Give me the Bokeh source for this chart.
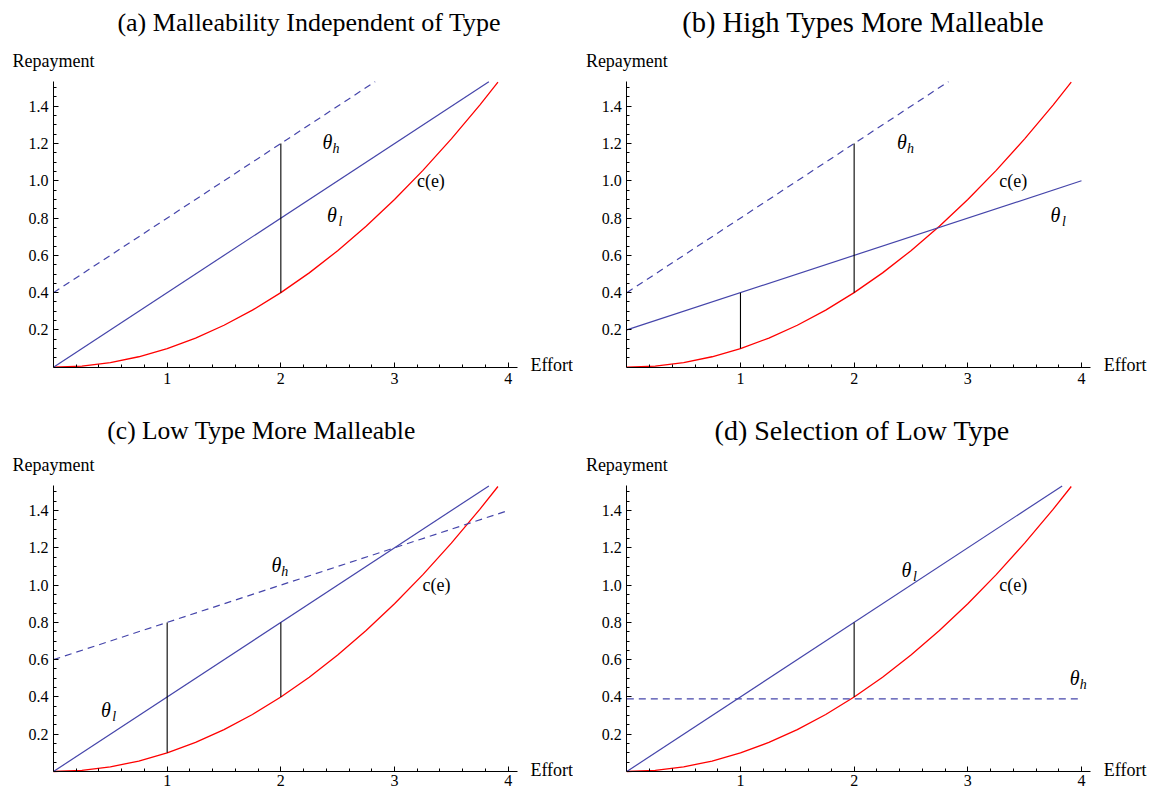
from bokeh.plotting import figure
from bokeh.models import Range1d, FixedTicker, Label, PrintfTickFormatter
from bokeh.layouts import gridplot
from bokeh.embed import file_html
from bokeh.resources import INLINE

# ---------------- data ----------------
titles = ["(a) Malleability Independent of Type",
          "(b) High Types More Malleable",
          "(c) Low Type More Malleable",
          "(d) Selection of Low Type"]

x_ticks = [1, 2, 3, 4]
x_minor = [0.2, 0.4, 0.6, 0.8, 1.2, 1.4, 1.6, 1.8, 2.2, 2.4, 2.6, 2.8,
           3.2, 3.4, 3.6, 3.8, 4.0]
y_ticks = [0.2, 0.4, 0.6, 0.8, 1.0, 1.2, 1.4]
y_minor = [0.05, 0.1, 0.15, 0.25, 0.3, 0.35, 0.45, 0.5, 0.55, 0.65, 0.7, 0.75,
           0.85, 0.9, 0.95, 1.05, 1.1, 1.15, 1.25, 1.3, 1.35, 1.45, 1.5]

# cost curve c(e)
effort_curve = [0.0, 0.25, 0.5, 0.75, 1.0, 1.25, 1.5, 1.75, 2.0, 2.25, 2.5,
                2.75, 3.0, 3.25, 3.5, 3.75, 3.91]
cost_curve = [0.0, 0.006, 0.025, 0.056, 0.1, 0.156, 0.225, 0.306, 0.4, 0.506,
              0.625, 0.756, 0.9, 1.056, 1.225, 1.406, 1.529]

# panel (a)
a_theta_l_x = [0.0, 3.83]
a_theta_l_y = [0.0, 1.532]
a_theta_h_x = [0.0, 2.83]
a_theta_h_y = [0.4, 1.532]
a_vert_x = [2.0]
a_vert_lo = [0.4]
a_vert_hi = [1.2]

# panel (b)
b_theta_l_x = [0.0, 4.0]
b_theta_l_y = [0.2, 1.0]
b_theta_h_x = [0.0, 2.83]
b_theta_h_y = [0.4, 1.532]
b_vert_x = [1.0, 2.0]
b_vert_lo = [0.1, 0.4]
b_vert_hi = [0.4, 1.2]

# panel (c)
c_theta_l_x = [0.0, 3.83]
c_theta_l_y = [0.0, 1.532]
c_theta_h_x = [0.0, 4.0]
c_theta_h_y = [0.6, 1.4]
c_vert_x = [1.0, 2.0]
c_vert_lo = [0.1, 0.4]
c_vert_hi = [0.8, 0.8]

# panel (d)
d_theta_l_x = [0.0, 3.83]
d_theta_l_y = [0.0, 1.532]
d_theta_h_x = [0.0, 4.0]
d_theta_h_y = [0.39, 0.39]
d_vert_x = [2.0]
d_vert_lo = [0.4]
d_vert_hi = [0.8]

# ---------------- styling ----------------
FONT = "Liberation Serif"
AXIS_FONT = "'Liberation Serif', serif"
BLUE = "#4545aa"
RED = "#ff0000"
SX = 113.67    # px per effort unit
SY = 186.4     # px per repayment unit


def make_panel(title, title_x, title_y, title_size, width, height, origin_x,
               origin_y, x_standoff, tl_x, tl_y, th_x, th_y, vx, vlo, vhi,
               labels):
    p = figure(output_backend="svg", toolbar_location=None,
               frame_width=width, frame_height=height,
               x_range=Range1d(-origin_x / SX, (width - origin_x) / SX),
               y_range=Range1d(-(height - origin_y) / SY, origin_y / SY),
               min_border_left=0, min_border_right=0,
               min_border_top=0, min_border_bottom=0)
    p.grid.visible = False
    p.outline_line_color = None
    p.background_fill_color = "white"
    p.border_fill_color = "white"

    p.xaxis.fixed_location = 0
    p.yaxis.fixed_location = 0
    p.axis.axis_line_color = "black"
    p.axis.axis_line_width = 1
    p.axis.major_tick_in = 5
    p.axis.major_tick_out = 0
    p.axis.minor_tick_in = 3
    p.axis.minor_tick_out = 0
    p.axis.major_tick_line_color = "black"
    p.axis.minor_tick_line_color = "black"
    p.xaxis.major_label_text_font = AXIS_FONT
    p.yaxis.major_label_text_font = AXIS_FONT
    p.axis.major_label_text_font_size = "16px"
    p.axis.major_label_text_color = "black"
    p.xaxis.ticker = FixedTicker(ticks=x_ticks, minor_ticks=x_minor)
    p.yaxis.ticker = FixedTicker(ticks=y_ticks, minor_ticks=y_minor)
    p.yaxis.formatter = PrintfTickFormatter(format="%.1f")
    p.xaxis.bounds = (0, 4.08)
    p.yaxis.bounds = (0, 1.535)
    p.xaxis.major_label_standoff = x_standoff
    p.yaxis.major_label_standoff = 5

    # curves
    p.line(effort_curve, cost_curve, line_color=RED, line_width=1.3)
    p.line(tl_x, tl_y, line_color=BLUE, line_width=1.2)
    p.line(th_x, th_y, line_color=BLUE, line_width=1.2, line_dash="7 5")
    p.segment(x0=vx, y0=vlo, x1=vx, y1=vhi, line_color="black", line_width=1.1)

    # texts
    p.add_layout(Label(x=title_x, y=title_y, text=title, text_font=FONT,
                       text_font_size=title_size, text_align="center",
                       text_baseline="middle", text_color="black"))
    p.add_layout(Label(x=-0.36, y=1.645, text="Repayment", text_font=FONT,
                       text_font_size="18px", text_align="left",
                       text_baseline="middle", text_color="black"))
    p.add_layout(Label(x=4.196, y=0.01, text="Effort", text_font=FONT,
                       text_font_size="18px", text_align="left",
                       text_baseline="middle", text_color="black"))
    for kind, (lx, ly) in labels.items():
        if kind == "c":
            p.add_layout(Label(x=lx, y=ly, text="c(e)", text_font=FONT,
                               text_font_size="18px", text_align="center",
                               text_baseline="middle", text_color="black"))
        else:
            p.add_layout(Label(x=lx - 0.03, y=ly, text="θ", text_font=FONT,
                               text_font_style="italic", text_font_size="20px",
                               text_align="center", text_baseline="middle",
                               text_color="black"))
            p.add_layout(Label(x=lx + 0.045, y=ly - 0.035, text=kind,
                               text_font=FONT, text_font_style="italic",
                               text_font_size="14px", text_align="center",
                               text_baseline="middle", text_color="black"))
    return p


TOP_H = 400
BOT_H = 394
LEFT_W = 573
RIGHT_W = 577

pa = make_panel(titles[0], 2.25, 1.849, "26px", LEFT_W, TOP_H, 53, 366.7, 6,
                a_theta_l_x, a_theta_l_y, a_theta_h_x, a_theta_h_y,
                a_vert_x, a_vert_lo, a_vert_hi,
                {"h": (2.44, 1.21), "l": (2.48, 0.815), "c": (3.32, 1.0)})
pb = make_panel(titles[1], 2.08, 1.849, "28.5px", RIGHT_W, TOP_H, 53.3, 366.7, 6,
                b_theta_l_x, b_theta_l_y, b_theta_h_x, b_theta_h_y,
                b_vert_x, b_vert_lo, b_vert_hi,
                {"h": (2.45, 1.21), "l": (3.80, 0.815), "c": (3.40, 1.0)})
pc = make_panel(titles[2], 1.83, 1.829, "25.5px", LEFT_W, BOT_H, 53, 371, 3,
                c_theta_l_x, c_theta_l_y, c_theta_h_x, c_theta_h_y,
                c_vert_x, c_vert_lo, c_vert_hi,
                {"h": (1.99, 1.11), "l": (0.49, 0.33), "c": (3.37, 1.0)})
pd = make_panel(titles[3], 2.07, 1.829, "28px", RIGHT_W, BOT_H, 53.3, 371, 3,
                d_theta_l_x, d_theta_l_y, d_theta_h_x, d_theta_h_y,
                d_vert_x, d_vert_lo, d_vert_hi,
                {"h": (3.97, 0.5), "l": (2.49, 1.08), "c": (3.40, 1.0)})

grid = gridplot([[pa, pb], [pc, pd]], toolbar_location=None)

open("out.html", "w").write(file_html(grid, INLINE))
